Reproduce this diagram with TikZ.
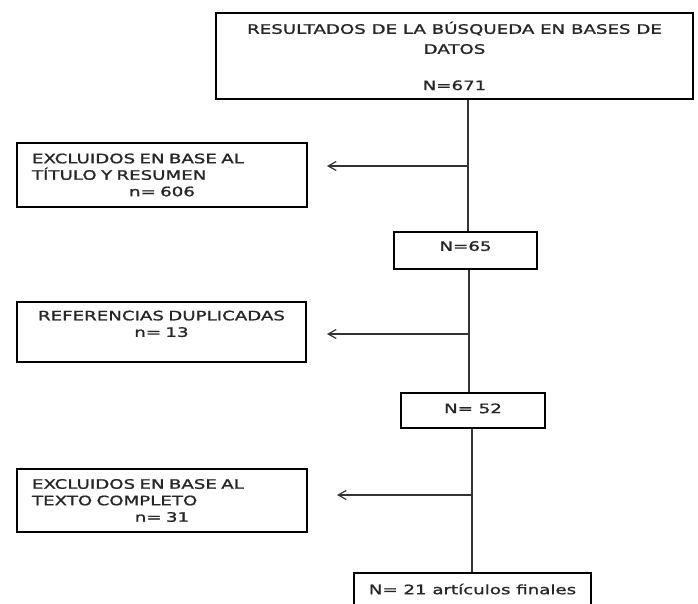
\documentclass[tikz,border=0pt]{standalone}
\usepackage{fontspec}
\setmainfont[FakeStretch=1.4,FakeBold=1.3]{DejaVu Sans}
\usepackage{tikz}
\usetikzlibrary{arrows.meta}
\definecolor{tinta}{HTML}{262626}
\tikzset{
  caja/.style={draw=black, line width=2pt, text=tinta, inner sep=0pt,
    font=\fontsize{13}{16.5}\selectfont},
  linea/.style={draw=black!80, line width=1.2pt},
  flecha/.style={linea, -{Straight Barb[length=8pt,width=9pt]}}
}

\begin{document}
\begin{tikzpicture}[x=1pt,y=-1pt]
                \clip (0,0) rectangle (698,603);

                %main column of boxes, define nodes first
                \node (busqueda) at (454.5,56) [caja,minimum width=477pt,minimum height=86pt,align=center]{RESULTADOS DE LA BÚSQUEDA EN BASES DE\\[3.5pt] DATOS\\[19.8pt] N=671};
                \node (n65) at (465.5,250.5) [caja,minimum width=143pt,minimum height=37pt,text depth=9pt]{N=65};
                \node (n52) at (473,410.5) [caja,minimum width=144pt,minimum height=35pt,text depth=4.4pt]{N= 52};
                \node (final) at (472.5,590) [caja,minimum width=237pt,minimum height=34pt,text depth=2pt]{N= 21 artículos finales};

                %boxes on the left with what gets left out
                \node (excl1) at (162,175) [caja,minimum width=290pt,minimum height=64pt,text width=260pt,align=left]{EXCLUIDOS EN BASE AL\\ TÍTULO Y RESUMEN\\ \makebox[\linewidth]{n= 606}};
                \node (dup) at (161.5,332) [caja,minimum width=289pt,minimum height=60pt,text width=259pt,align=center]{REFERENCIAS DUPLICADAS\\ n= 13\\ \mbox{}};
                \node (excl2) at (162,500.5) [caja,minimum width=290pt,minimum height=63pt,text width=260pt,align=left]{EXCLUIDOS EN BASE AL\\ TEXTO COMPLETO\\ \makebox[\linewidth]{n= 31}};

                %where the side arrows leave the main line
                \coordinate (s1) at (468,166);
                \coordinate (s2) at (469,334);
                \coordinate (s3) at (472,495);

                %vertical line down the middle
                \draw[linea] (busqueda.south -| s1) -- (n65.north -| s1);
                \draw[linea] (n65.south -| s2) -- (n52.north -| s2);
                \draw[linea] (n52.south -| s3) -- (final.north -| s3);

                %side arrows
                \draw[flecha, shorten >=19pt] (s1) -- (excl1.east |- s1);
                \draw[flecha, shorten >=20pt] (s2) -- (dup.east |- s2);
                \draw[flecha, shorten >=29pt] (s3) -- (excl2.east |- s3);
            \end{tikzpicture}
\end{document}
